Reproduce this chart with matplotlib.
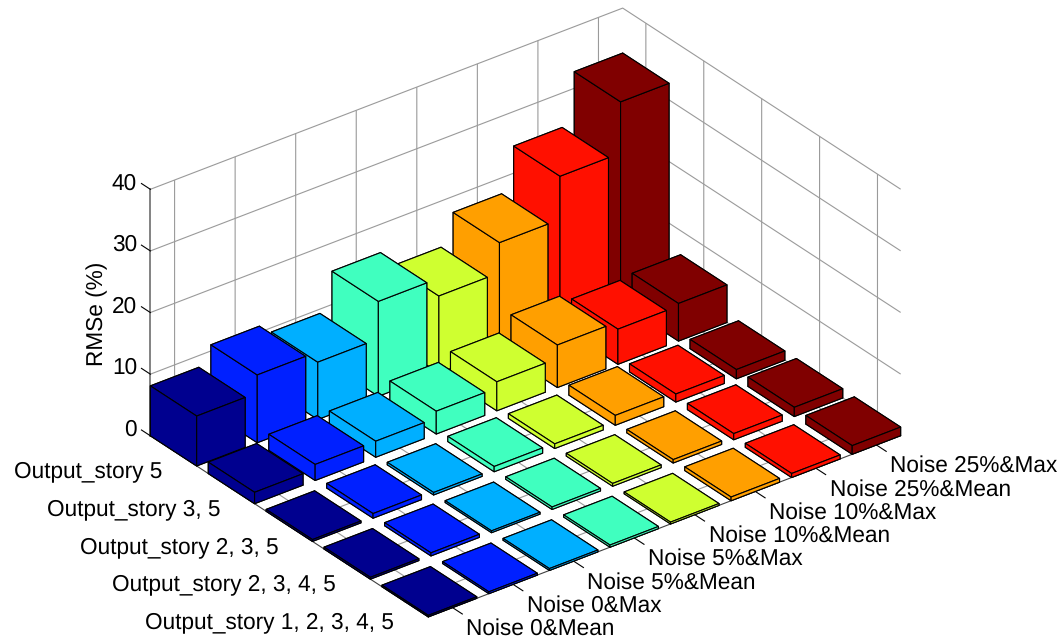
import matplotlib
matplotlib.use("Agg")
import matplotlib.pyplot as plt

plt.rcParams['font.family'] = ['Liberation Sans', 'DejaVu Sans']
plt.rcParams['text.hinting'] = 'no_hinting'

noise_labels = ['Noise 0&Mean', 'Noise 0&Max', 'Noise 5%&Mean', 'Noise 5%&Max',
                'Noise 10%&Mean', 'Noise 10%&Max', 'Noise 25%&Mean', 'Noise 25%&Max']
output_labels = ['Output_story 5', 'Output_story 3, 5', 'Output_story 2, 3, 5',
                 'Output_story 2, 3, 4, 5', 'Output_story 1, 2, 3, 4, 5']
z_ticks = [0, 10, 20, 30, 40]
col_colors = ['#00008f', '#0020ff', '#00afff', '#40ffbf', '#cfff30', '#ff9f00', '#ff1000', '#800000']

rmse_story5 = [8.1, 11.0, 9.3, 15.4, 12.5, 17.4, 24.4, 32.7]
rmse_story35 = [1.85, 2.6, 2.6, 3.7, 4.7, 6.9, 5.7, 6.1]
rmse_story235 = [0.3, 0.75, 0.4, 0.85, 0.75, 1.6, 1.3, 1.5]
rmse_story2345 = [0.3, 0.5, 0.3, 0.4, 0.45, 0.55, 1.0, 1.5]
rmse_story12345 = [0.25, 0.3, 0.3, 0.35, 0.3, 0.6, 0.65, 1.4]
rows = [rmse_story5, rmse_story35, rmse_story235, rmse_story2345, rmse_story12345]

W, H = 1059, 642
S = 779
left = 525.5 - 0.095 / 0.185 * S
bottom = (H - 312.5) - 0.095 / 0.185 * S

fig = plt.figure(figsize=(W / 100, H / 100), dpi=100, facecolor='white')
ax = fig.add_axes([left / W, bottom / H, S / W, S / H], projection='3d', proj_type='ortho')
ax.patch.set_alpha(0)
ax.computed_zorder = False

bw = 0.8
order = 1
for r, row in enumerate(rows):
    for c in range(len(noise_labels) - 1, -1, -1):
        poly = ax.bar3d(c + 1 - bw / 2, r + 1 - bw / 2, 0, bw, bw, row[c],
                        color=col_colors[c], edgecolor='black', linewidth=0.8, shade=False)
        poly.set_zorder(order)
        order += 1

ax.set_xlim(0.6, 8.4, view_margin=0)
ax.set_ylim(5.4, 0.6, view_margin=0)
ax.set_zlim(0, 40, view_margin=0)
ax.set_box_aspect((592, 454, 283), zoom=1.0)
ax.view_init(elev=30, azim=-127.5)

ax.set_xticks(range(1, 9))
ax.set_xticklabels(noise_labels, fontsize=16.3, ha='left', va='center')
ax.set_yticks(range(1, 6))
ax.set_yticklabels(output_labels, fontsize=16.3, ha='right', va='top')
ax.set_zticks(z_ticks)
ax.set_zticklabels([str(z) for z in z_ticks], fontsize=16.3, ha='right', va='baseline')
ax.zaxis._get_tickdir = lambda pos: 1

for axis in (ax.xaxis, ax.yaxis, ax.zaxis):
    axis.pane.set_facecolor('white')
    axis.pane.set_edgecolor('none')
    axis.line.set_color('#404040')
    axis.line.set_linewidth(0.8)
    axis._axinfo['grid'].update(color='#9a9a9a', linewidth=0.8, linestyle='-')
    axis.set_tick_params(colors='black')
ax.zaxis.line.set_linewidth(1.1)
ax.zaxis.line.set_color('#606060')

ax.xaxis._axinfo['tick'].update(inward_factor=0.44, outward_factor=0.0, linewidth={True: 0.8, False: 0.8})
ax.yaxis._axinfo['tick'].update(inward_factor=0.0, outward_factor=0.2, linewidth={True: 0.8, False: 0.8})
ax.zaxis._axinfo['tick'].update(inward_factor=0.0, outward_factor=0.4, linewidth={True: 0.8, False: 0.8})
ax.xaxis.set_tick_params(pad=6.5)
ax.yaxis.set_tick_params(pad=-1.2)
ax.zaxis.set_tick_params(pad=-2.8)

fig.text(97 / W, 1 - 313.5 / H, 'RMSe (%)', rotation=90, fontsize=16.3, ha='center', va='center')

fig.savefig('out.png', dpi=100)
